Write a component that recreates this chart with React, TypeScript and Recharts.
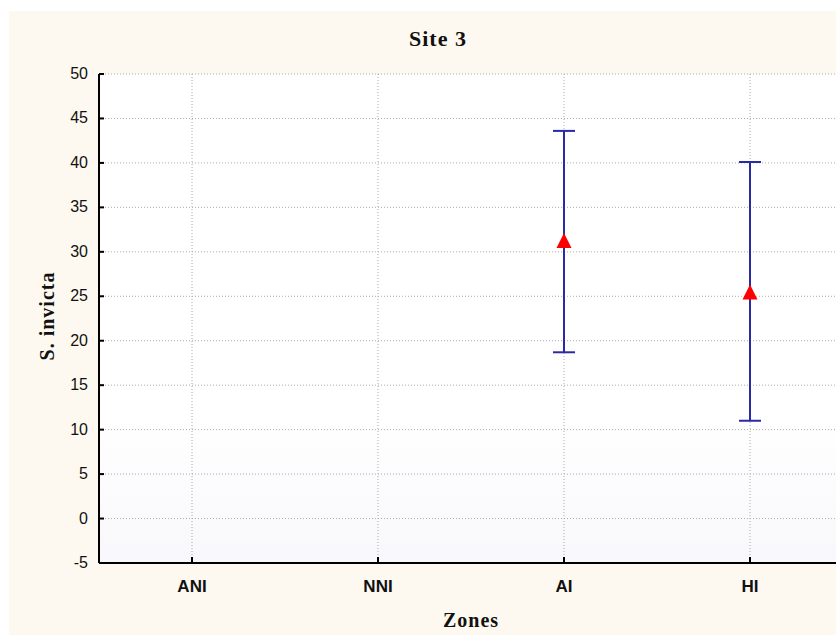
import { ComposedChart, Line, ErrorBar, XAxis, YAxis, CartesianGrid } from 'recharts';

const zones = ['ANI', 'NNI', 'AI', 'HI'];
const means = [null, null, 31.1, 25.3];
const lower = [null, null, 18.7, 11.0];
const upper = [null, null, 43.6, 40.1];
const yTicks = [-5, 0, 5, 10, 15, 20, 25, 30, 35, 40, 45, 50];

const data = zones.map((zone, i) => {
  const m = means[i];
  const lo = lower[i];
  const hi = upper[i];
  return {
    zone,
    mean: m,
    err: m == null || lo == null || hi == null ? null : [m - lo, hi - m],
  };
});

const BLUE = '#2a2aa6';
const sans = '"Liberation Sans", Arial, sans-serif';
const serif = '"Liberation Serif", "Times New Roman", serif';

const YTick = ({ x, y, payload }: any) => (
  <g>
    <line x1={99} y1={y} x2={104} y2={y} stroke="#000" strokeWidth={2} />
    <text x={x} y={y} dy={5} textAnchor="end" fontSize={16} fontFamily={sans} fill="#111">
      {payload.value}
    </text>
  </g>
);

const XTick = ({ x, y, payload }: any) => (
  <g>
    <line x1={x} y1={563} x2={x} y2={557} stroke="#000" strokeWidth={2} />
    <text x={x} y={y} dy={9} textAnchor="middle" fontSize={17} fontWeight="bold" fontFamily={sans} fill="#111">
      {payload.value}
    </text>
  </g>
);

const TopTick = ({ x }: any) => (
  <line x1={x} y1={74} x2={x} y2={80} stroke="#000" strokeWidth={2} />
);

const Triangle = (props: any) => {
  const { cx, cy, value, index } = props;
  if (value == null || cx == null || cy == null) return <g key={`t-${index}`} />;
  return (
    <path
      key={`t-${index}`}
      d={`M${cx},${cy - 9} L${cx - 7.5},${cy + 6} L${cx + 7.5},${cy + 6} Z`}
      fill="#ff0000"
      stroke="none"
    />
  );
};

export default function App() {
  return (
    <div style={{ position: 'fixed', left: 0, top: 0, width: 836, height: 635, overflow: 'hidden', background: '#fff' }}>
      <div style={{ position: 'absolute', left: 9, top: 11, width: 900, height: 700, background: '#fdf9f0' }} />
      <div style={{ position: 'absolute', left: 0, top: 0 }}>
        <ComposedChart
          width={853}
          height={635}
          data={data}
          margin={{ top: 74, right: 10, bottom: 32, left: 39 }}
        >
          <defs>
            <linearGradient id="plotBg" x1="0" y1="0" x2="0" y2="1">
              <stop offset="0%" stopColor="#ffffff" />
              <stop offset="70%" stopColor="#ffffff" />
              <stop offset="100%" stopColor="#f8f8fc" />
            </linearGradient>
          </defs>
          <CartesianGrid fill="url(#plotBg)" stroke="#aaaaaa" strokeDasharray="1 2" />
          <XAxis
            dataKey="zone"
            scale="band"
            height={40}
            axisLine={{ stroke: '#000', strokeWidth: 2 }}
            tickLine={false}
            tickSize={0}
            tickMargin={20}
            tick={<XTick />}
            interval={0}
          />
          <XAxis
            xAxisId="top"
            orientation="top"
            dataKey="zone"
            scale="band"
            height={0}
            axisLine={{ stroke: '#000', strokeWidth: 2 }}
            tickLine={false}
            tickSize={0}
            tick={<TopTick />}
            interval={0}
          />
          <YAxis
            width={60}
            domain={[-5, 50]}
            ticks={yTicks}
            allowDataOverflow
            axisLine={{ stroke: '#000', strokeWidth: 2 }}
            tickLine={false}
            tickSize={0}
            tickMargin={11}
            tick={<YTick />}
            interval={0}
          />
          <Line
            dataKey="mean"
            stroke="none"
            isAnimationActive={false}
            dot={Triangle}
            activeDot={false}
          >
            <ErrorBar dataKey="err" direction="y" width={11} stroke={BLUE} strokeWidth={2} />
          </Line>
        </ComposedChart>
      </div>
      <div style={{ position: 'absolute', left: 338, top: 26, width: 200, textAlign: 'center', fontFamily: serif, fontWeight: 'bold', fontSize: 22, letterSpacing: 1, color: '#111' }}>
        Site 3
      </div>
      <div style={{ position: 'absolute', left: 371, top: 609, width: 200, lineHeight: '22px', textAlign: 'center', fontFamily: serif, fontWeight: 'bold', fontSize: 20, letterSpacing: 1, color: '#111' }}>
        Zones
      </div>
      <div
        style={{
          position: 'absolute',
          left: 47,
          top: 316,
          transform: 'translate(-50%, -50%) rotate(-90deg)',
          whiteSpace: 'nowrap',
          fontFamily: serif,
          fontWeight: 'bold',
          fontSize: 20,
          letterSpacing: 1,
          color: '#111',
        }}
      >
        S. invicta
      </div>
    </div>
  );
}
